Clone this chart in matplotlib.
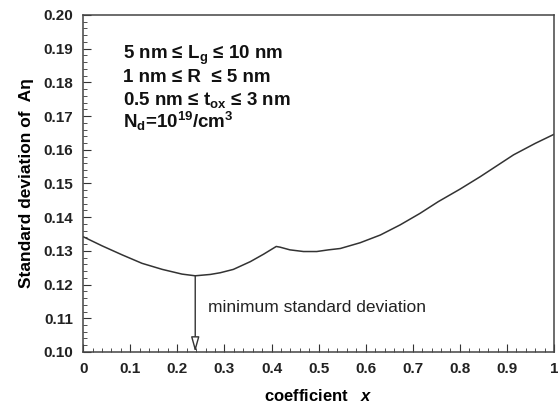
import matplotlib
matplotlib.use('Agg')
import matplotlib.pyplot as plt
from matplotlib.ticker import MultipleLocator

plt.rcParams['font.family'] = ['Liberation Sans', 'DejaVu Sans']
plt.rcParams['mathtext.fontset'] = 'custom'
plt.rcParams['mathtext.rm'] = 'Liberation Sans:bold'
plt.rcParams['mathtext.it'] = 'Liberation Sans:bold:italic'

# curve
coef = [0.0, 0.040, 0.083, 0.125, 0.168, 0.210, 0.238, 0.270, 0.291, 0.319,
        0.355, 0.383, 0.410, 0.418, 0.439, 0.468, 0.496, 0.521, 0.546, 0.588,
        0.631, 0.673, 0.715, 0.754, 0.800, 0.843, 0.914, 0.960, 1.0]
sigma = [0.1342, 0.1315, 0.1288, 0.1263, 0.1245, 0.1231, 0.1226, 0.1230, 0.1235, 0.1245,
         0.1268, 0.1290, 0.1313, 0.1311, 0.1303, 0.1298, 0.1298, 0.1303, 0.1307, 0.1324,
         0.1347, 0.1377, 0.1411, 0.1446, 0.1483, 0.1520, 0.1585, 0.1619, 0.1646]
x_min = 0.238
y_min = 0.1226

fig = plt.figure(figsize=(5.58, 4.05), dpi=100)
ax = fig.add_axes([0.149, 0.131, 0.844, 0.832])

ax.plot(coef, sigma, color='#333333', lw=1.1)

ax.annotate('', xy=(x_min, 0.1), xytext=(x_min, y_min),
            arrowprops=dict(arrowstyle='-|>,head_width=0.25,head_length=0.9',
                            fc='white', ec='#333333', lw=1.0, shrinkA=0, shrinkB=0))
ax.text(0.265, 0.1131, 'minimum standard deviation', fontsize=12.5, color='#222222',
        va='center')

lines = ['5 nm \u2264 L$_\\mathregular{g}$ \u2264 10 nm',
         '1 nm \u2264 R  \u2264 5 nm',
         '0.5 nm \u2264 t$_\\mathregular{ox}$ \u2264 3 nm',
         'N$_\\mathregular{d}$=10$^{\\mathregular{19}}$/cm$^\\mathregular{3}$']
ys = [0.1868, 0.1800, 0.1732, 0.1664]
for s, yy in zip(lines, ys):
    ax.text(0.085, yy, s, fontsize=13.5, fontweight='bold', color='#111111', va='baseline')

ax.set_xlim(0, 1)
ax.set_ylim(0.10, 0.20)
ax.xaxis.set_major_locator(MultipleLocator(0.1))
ax.xaxis.set_minor_locator(MultipleLocator(0.02))
ax.yaxis.set_major_locator(MultipleLocator(0.01))
ax.yaxis.set_minor_locator(MultipleLocator(0.002))
ax.set_xticks([0, 0.1, 0.2, 0.3, 0.4, 0.5, 0.6, 0.7, 0.8, 0.9, 1.0])
ax.set_xticklabels(['0', '0.1', '0.2', '0.3', '0.4', '0.5', '0.6', '0.7', '0.8', '0.9', '1'])
ax.set_yticklabels(['%.2f' % v for v in ax.get_yticks()])
ax.tick_params(which='both', direction='in', color='#333333')
ax.tick_params(which='major', length=6, labelsize=11, pad=7)
ax.tick_params(which='minor', length=3)
for lbl in ax.get_xticklabels() + ax.get_yticklabels():
    lbl.set_fontweight('bold')
    lbl.set_color('#222222')
for sp in ax.spines.values():
    sp.set_color('#444444')
    sp.set_linewidth(1.1)

ax.set_xlabel('coefficient   $x$', fontsize=12, fontweight='bold', labelpad=9)
ax.set_ylabel('Standard deviation of  A\u03b7', fontsize=12.5, fontweight='bold', labelpad=7)

fig.savefig('out.png', dpi=100)
